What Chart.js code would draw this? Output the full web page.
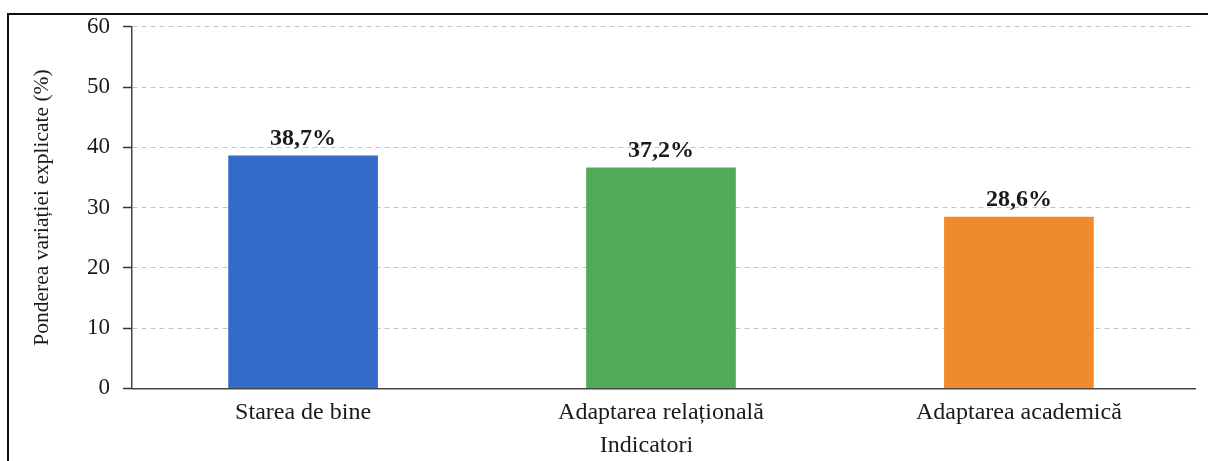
<!DOCTYPE html>
<html>
<head>
<meta charset="utf-8">
<script src="https://cdn.jsdelivr.net/npm/chart.js@4"></script>
<style>
  html, body { margin: 0; padding: 0; background: #fff; overflow: hidden; }
  #wrap { position: relative; width: 1208px; height: 461px; }
  #frame { position: absolute; left: 7px; top: 13px; width: 1230px; height: 480px; border: 2px solid #111; box-sizing: border-box; }
  canvas { position: absolute; left: 0; top: 0; }
</style>
</head>
<body>
<div id="wrap">
  <div id="frame"></div>
  <canvas id="c" width="1208" height="461"></canvas>
</div>
<script>
// ---- data ----
const categories = ["Starea de bine", "Adaptarea relațională", "Adaptarea academică"];
const values = [38.6, 36.6, 28.4];
const valueLabels = ["38,7%", "37,2%", "28,6%"];
const colors = ["#346bc8", "#52a95a", "#ef8b2c"];
const yTicks = [0, 10, 20, 30, 40, 50, 60];
const yTitle = "Ponderea variației explicate (%)";
const xTitle = "Indicatori";

const SERIF = "'Liberation Serif', 'Times New Roman', serif";

const dataLabelPlugin = {
  id: 'dataLabels',
  afterDatasetsDraw(chart) {
    const ctx = chart.ctx;
    const meta = chart.getDatasetMeta(0);
    ctx.save();
    ctx.font = "bold 24px " + SERIF;
    ctx.fillStyle = "#1a1a1a";
    ctx.textAlign = "center";
    ctx.textBaseline = "middle";
    meta.data.forEach((bar, i) => {
      ctx.fillText(valueLabels[i], bar.x, bar.y - 17);
    });
    ctx.restore();
  }
};

// x-axis title, slightly left of the plot centre as in the reference
const xTitlePlugin = {
  id: 'xTitle',
  afterDraw(chart) {
    const ctx = chart.ctx;
    const xs = chart.scales.x;
    ctx.save();
    ctx.font = "24px " + SERIF;
    ctx.fillStyle = "#1a1a1a";
    ctx.textAlign = "center";
    ctx.textBaseline = "middle";
    ctx.fillText(xTitle, (xs.left + xs.right) / 2 - 17, xs.bottom - 15);
    ctx.restore();
  }
};

new Chart(document.getElementById('c'), {
  type: 'bar',
  data: {
    datasets: [{
      data: values.map((v, i) => ({ x: i, y: v })),
      backgroundColor: colors,
      borderWidth: 0,
      barThickness: 149
    }]
  },
  options: {
    responsive: false,
    animation: false,
    devicePixelRatio: 1,
    layout: { padding: { top: 22.7, right: 13, left: 0, bottom: 0 } },
    plugins: { legend: { display: false }, tooltip: { enabled: false } },
    scales: {
      x: {
        type: 'linear',
        offset: false,
        min: -0.478,
        max: 2.492,
        afterFit(scale) { scale.height = 72.7; },
        afterBuildTicks(scale) { scale.ticks = categories.map((c, i) => ({ value: i })); },
        ticks: {
          callback: (v) => categories[v],
          autoSkip: false,
          maxRotation: 0,
          padding: 2,
          color: "#1a1a1a",
          font: { family: SERIF, size: 24 }
        },
        grid: { display: false, offset: false },
        border: { display: true, color: "#444", width: 1.5 },
        title: { display: false }
      },
      y: {
        min: 0,
        max: 60,
        afterFit(scale) { scale.width = 132; },
        afterBuildTicks(scale) { scale.ticks = yTicks.map(v => ({ value: v })); },
        ticks: {
          color: "#1a1a1a",
          padding: 13,
          font: { family: SERIF, size: 23 }
        },
        grid: {
          color: "#c4c4c4",
          lineWidth: 1,
          drawTicks: true,
          tickLength: 9,
          tickColor: "#333",
          tickWidth: 1.5
        },
        border: { display: true, color: "#444", width: 1.5, dash: [5, 4] },
        title: {
          display: true,
          text: yTitle,
          color: "#1a1a1a",
          font: { family: SERIF, size: 21.5 },
          padding: { top: 29, bottom: 0 }
        }
      }
    }
  },
  plugins: [dataLabelPlugin, xTitlePlugin]
});
</script>
</body>
</html>
